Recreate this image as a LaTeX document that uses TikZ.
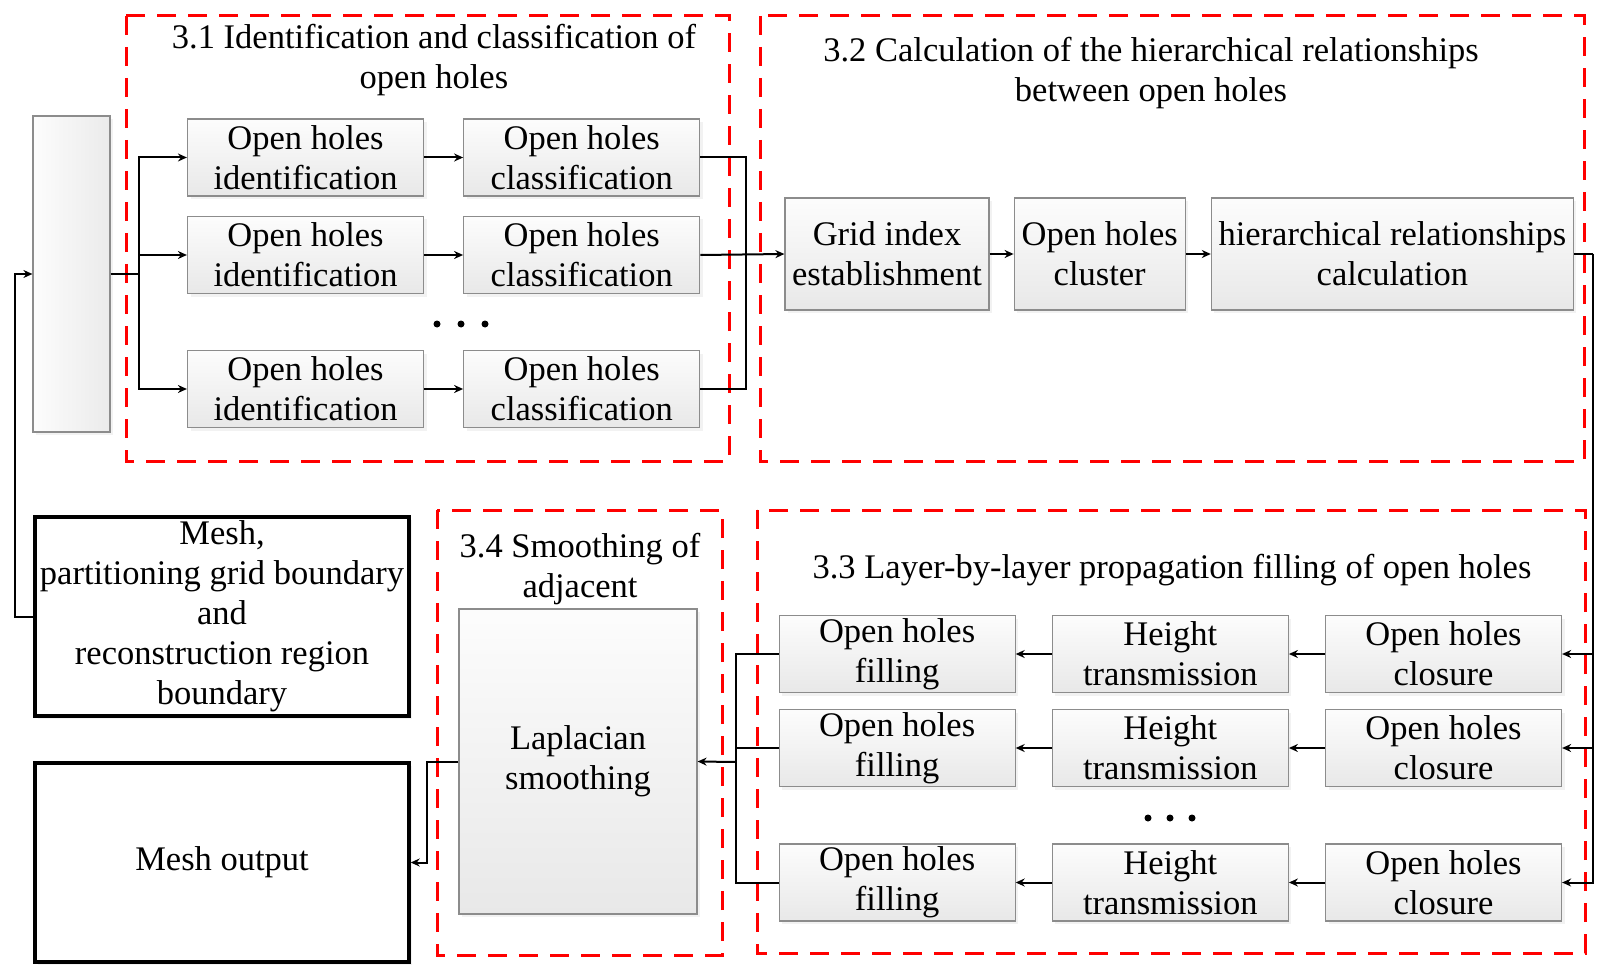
\documentclass[tikz,border=0pt]{standalone}
\usepackage{fontspec}
\setmainfont{LiberationSerif}[Extension=.ttf, UprightFont=*-Regular, BoldFont=*-Bold]
\usetikzlibrary{arrows.meta,positioning,shadows}

\tikzset{
  proc/.style={draw=black!45, line width=1.2pt, top color=black!1, bottom color=black!9,
    align=center, inner sep=0pt, minimum width=236pt, minimum height=77pt,
    drop shadow={fill=black!10, shadow xshift=3pt, shadow yshift=-3pt}},
  blackbox/.style={draw=black, line width=3.4pt, fill=white, align=center, inner sep=0pt,
    minimum width=374pt, minimum height=199pt,
    drop shadow={fill=black!10, shadow xshift=3pt, shadow yshift=-3pt}},
  stage/.style={draw=red, line width=3pt, dash pattern=on 19pt off 12pt},
  title/.style={align=center, inner sep=0pt},
  link/.style={line width=2pt},
}

\begin{document}
\begin{tikzpicture}[x=1pt,y=-1pt,>={Stealth[length=9pt,width=8pt]},
    font=\rmfamily\fontsize{34.5}{40}\selectfont]
  \useasboundingbox (0,0) rectangle (1608,976);

  % stage frames
  \draw[stage] (126,16) rectangle (729,461);
  \draw[stage] (760,16) rectangle (1584,461);
  \draw[stage] (437,510) rectangle (722,955);
  \draw[stage] (757,510) rectangle (1585,953);
  \node[title] (t31) at (434,60) {3.1 Identification and classification of\\open holes};
  \node[title] (t32) at (1151,73) {3.2 Calculation of the hierarchical relationships\\between open holes};
  \node[title] (t33) at (1172,570) {3.3 Layer-by-layer propagation filling of open holes};
  \node[title] (t34) at (580,569) {3.4 Smoothing of\\adjacent};

  % input and mesh boxes
  \node[proc, minimum width=77pt, minimum height=316pt, left color=black!1, right color=black!8] (input) at (71.5,274) {};
  \node[blackbox] (mesh) at (222,616.5) {Mesh,\\partitioning grid boundary\\and\\reconstruction region\\boundary};
  \node[blackbox] (output) at (222,862.5) {Mesh output};

  % 3.1
  \node[proc] (ident1) at (305.5,157.5) {Open holes\\identification};
  \node[proc] (ident2) at (305.5,255) {Open holes\\identification};
  \node[proc] (ident3) at (305.5,389) {Open holes\\identification};
  \node[proc] [right=39pt of ident1] (class1) {Open holes\\classification};
  \node[proc] [right=39pt of ident2] (class2) {Open holes\\classification};
  \node[proc] [right=39pt of ident3] (class3) {Open holes\\classification};
  \foreach \dx in {437,461,485}
    \fill (\dx,324) circle (3.5pt);

  % 3.2
  \node[proc, minimum width=204pt, minimum height=112pt] (grid) at (887,254) {Grid index\\establishment};
  \node[proc, minimum width=171pt, minimum height=112pt] [right=24pt of grid] (cluster) {Open holes\\cluster};
  \node[proc, minimum width=362pt, minimum height=112pt] [right=25pt of cluster] (hier) {hierarchical relationships\\calculation};

  % 3.3
  \node[proc] (close1) at (1443.5,654) {Open holes\\closure};
  \node[proc] (close2) at (1443.5,748) {Open holes\\closure};
  \node[proc] (close3) at (1443.5,882.5) {Open holes\\closure};
  \node[proc] [left=36pt of close1] (height1) {Height\\transmission};
  \node[proc] [left=36pt of close2] (height2) {Height\\transmission};
  \node[proc] [left=36pt of close3] (height3) {Height\\transmission};
  \node[proc] [left=36pt of height1] (fill1) {Open holes\\filling};
  \node[proc] [left=36pt of height2] (fill2) {Open holes\\filling};
  \node[proc] [left=36pt of height3] (fill3) {Open holes\\filling};
  \foreach \dx in {1148,1170,1192}
    \fill (\dx,818) circle (3.5pt);

  % 3.4
  \node[proc, minimum width=238pt, minimum height=305pt] (lap) at (578,761.5) {Laplacian\\smoothing};

  % connectors
  \coordinate (fork) at (139,274);
  \coordinate (merge) at (746,255);
  \coordinate (rbus) at (1593,254);
  \coordinate (lbus) at (736,762);
  \draw[link] (input.east) -- (fork);
  \draw[link,->] (fork) |- (ident1.west);
  \draw[link,->] (fork) |- (ident2.west);
  \draw[link,->] (fork) |- (ident3.west);
  \draw[link,->] (ident1) -- (class1);
  \draw[link,->] (ident2) -- (class2);
  \draw[link,->] (ident3) -- (class3);
  \draw[link] (class1.east) -| (merge);
  \draw[link] (class3.east) -| (merge);
  \draw[link,->] (class2.east) -- (grid.west);
  \draw[link,->] (grid) -- (cluster);
  \draw[link,->] (cluster) -- (hier);
  \draw[link] (hier.east) -- (rbus);
  \draw[link,->] (rbus) |- (close1.east);
  \draw[link,->] (rbus) |- (close2.east);
  \draw[link,->] (rbus) |- (close3.east);
  \draw[link,->] (close1) -- (height1);
  \draw[link,->] (close2) -- (height2);
  \draw[link,->] (close3) -- (height3);
  \draw[link,->] (height1) -- (fill1);
  \draw[link,->] (height2) -- (fill2);
  \draw[link,->] (height3) -- (fill3);
  \draw[link] (fill1.west) -| (lbus);
  \draw[link] (fill2.west) -| (lbus);
  \draw[link] (fill3.west) -| (lbus);
  \draw[link,->] (lbus) -- (lap.east);
  \draw[link,->] (lap.west) -- ++(-31,0) |- (output.east);
  \draw[link,->] (mesh.west) -- ++(-18,0) |- (input.west);
\end{tikzpicture}
\end{document}
